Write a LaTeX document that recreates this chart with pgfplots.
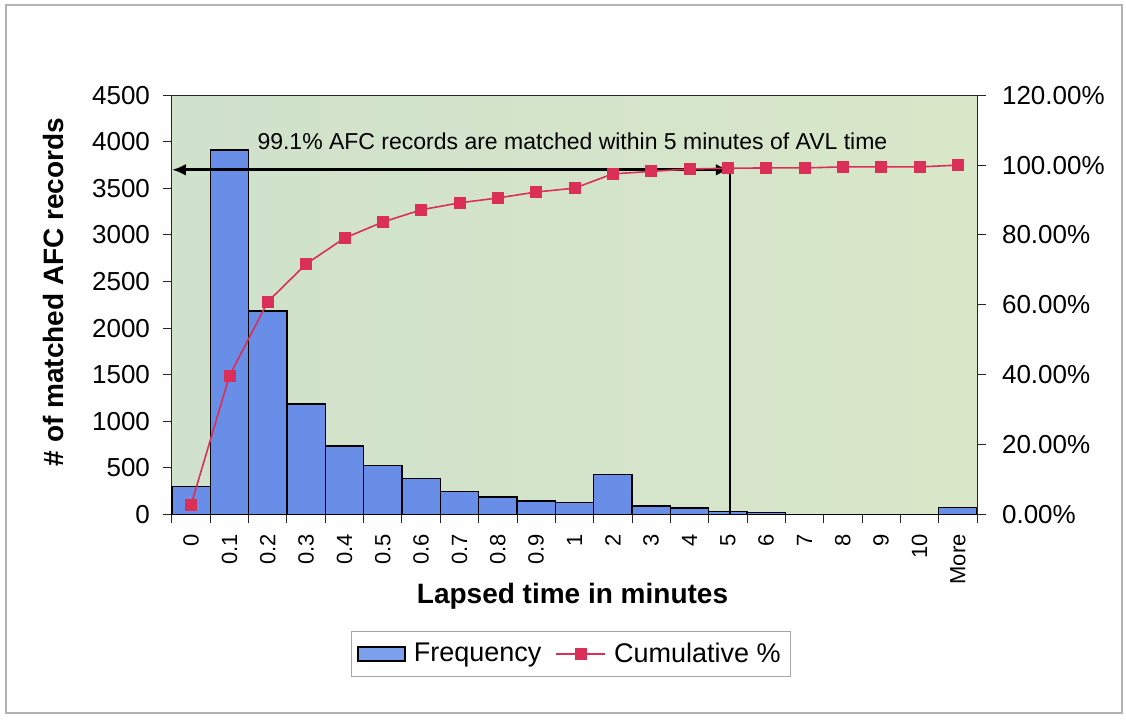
\documentclass[border=0pt]{standalone}
\usepackage{fontspec}
\setmainfont{Liberation Sans}
\usepackage{pgfplots}
\usepackage{pgfplotstable}
\pgfplotsset{compat=1.18}
\usetikzlibrary{arrows.meta}

\definecolor{barblue}{RGB}{104,142,232}
\definecolor{legendblue}{RGB}{125,160,236}
\definecolor{cumred}{RGB}{218,48,88}
\definecolor{plotleft}{RGB}{208,225,204}
\definecolor{plotright}{RGB}{216,231,200}

% Histogram of lapsed time between AFC and AVL records
% idx: bin position, freq: number of records, cum: cumulative percent
\pgfplotstableread{
idx freq cum
0  300  2.8
1  3910 39.7
2  2185 60.9
3  1185 71.7
4  733  79.1
5  525  83.7
6  383  87.2
7  245  89.2
8  186  90.6
9  143  92.3
10 126  93.4
11 425  97.5
12 91   98.2
13 70   98.9
14 30   99.1
15 22   99.2
16 0    99.2
17 0    99.5
18 0    99.5
19 0    99.5
20 73   100.0
}\histdata

\pgfplotsset{
  histaxis/.style={
    scale only axis,
    width=402.5pt, height=209.5pt,
    at={(86pt,102.35pt)}, anchor=south west,
    xmin=-0.5, xmax=20.5, ymin=0,
    enlargelimits=false,
    clip=false,
    /pgf/number format/assume math mode=true,
    /pgf/number format/1000 sep={},
    tick label style={font=\fontsize{13}{15}\selectfont},
    major tick length=4.5pt,
    axis line style={black!85, line width=0.5pt},
    every tick/.style={black!85, line width=0.5pt},
  }
}

\begin{document}
\begin{tikzpicture}
\useasboundingbox (0,0) rectangle (563pt,359.5pt);
\draw[gray!60, line width=0.6pt] (3pt,3pt) rectangle (561pt,357pt);

% Frequency bars on the left axis
\begin{axis}[histaxis,
  ymax=4500,
  ytick={0,500,...,4500},
  ytick pos=left,
  xtick pos=bottom,
  tick align=outside,
  xtick={-0.5,0.5,...,20.5},
  xticklabels={},
  extra x ticks={0,1,...,20},
  extra x tick labels={0,0.1,0.2,0.3,0.4,0.5,0.6,0.7,0.8,0.9,1,2,3,4,5,6,7,8,9,10,More},
  extra x tick style={major tick length=0pt,
    tick label style={yshift=-6.5pt, rotate=90, anchor=east,
      font=\fontsize{11}{13}\selectfont}},
  y tick label style={xshift=-3pt},
  axis background/.style={left color=plotleft, right color=plotright},
  ybar, bar width=19.17pt,
]
\addplot[fill=barblue, draw=black, line width=0.75pt] table[x=idx, y=freq]{\histdata};

\draw[line width=1.5pt, {Latex[length=7pt,width=6pt]}-{Latex[length=7pt,width=6pt]}]
  (axis cs:-0.5,3700) -- (axis cs:14.05,3700);
\draw[line width=1pt] (axis cs:14.05,3700) -- (axis cs:14.05,0);
\node[anchor=base west, inner sep=0pt, font=\fontsize{11.5}{13}\selectfont]
  at (axis cs:1.72,3913) {99.1\% AFC records are matched within 5 minutes of AVL time};
\end{axis}

% Cumulative percentage on the right axis
\begin{axis}[histaxis,
  ymax=120,
  axis x line=none,
  axis y line*=right,
  tick align=outside,
  ytick={0,20,...,120},
  yticklabels={0.00\%,20.00\%,40.00\%,60.00\%,80.00\%,100.00\%,120.00\%},
  y tick label style={xshift=4.5pt},
  legend image code/.code={
    \draw[mark repeat=2, mark phase=2, #1] plot coordinates {(0pt,0pt) (12.25pt,0pt) (24.5pt,0pt)};},
  legend style={at={(0.4957,-0.3334)}, anchor=center,
    legend columns=2, draw=gray!70, line width=0.5pt,
    font=\fontsize{13.5}{15}\selectfont,
    inner xsep=3pt, inner ysep=3.5pt,
    /tikz/every odd column/.append style={column sep=2pt},
    /tikz/every even column/.append style={column sep=5pt}},
]
\addlegendimage{legend image code/.code={
  \draw[fill=legendblue, draw=black, line width=0.7pt] (0pt,-3.5pt) rectangle (23.5pt,3.5pt);}}
\addlegendentry{Frequency}
\addplot[cumred, line width=0.8pt, mark=square*, mark size=2.6pt,
  mark options={fill=cumred, draw=cumred}]
  table[x=idx, y=cum]{\histdata};
\addlegendentry{Cumulative \%}
\end{axis}

\node[rotate=90, anchor=base, font=\bfseries\fontsize{14}{16}\selectfont]
  at (31.5pt,213.5pt) {\# of matched AFC records};
\node[anchor=base, font=\bfseries\fontsize{14}{16}\selectfont]
  at (286.25pt,58pt) {Lapsed time in minutes};
\end{tikzpicture}
\end{document}
